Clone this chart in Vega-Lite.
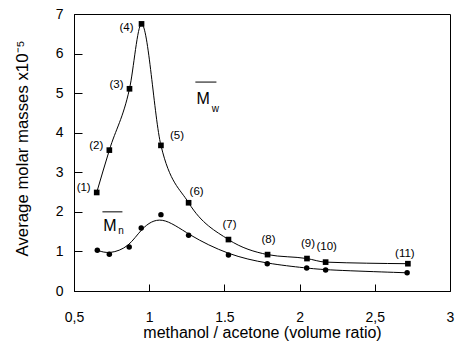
{
  "$schema": "https://vega.github.io/schema/vega-lite/v6.json",
  "width": 376,
  "height": 277,
  "autosize": {"type": "none"},
  "padding": {"left": 74, "top": 14, "right": 6, "bottom": 53},
  "background": "white",
  "config": {
    "font": "Liberation Sans",
    "view": {"stroke": "black", "strokeWidth": 1},
    "axis": {"domainColor": "black", "tickColor": "black", "labelColor": "black", "titleColor": "black", "grid": false, "labelFont": "Liberation Sans", "titleFont": "Liberation Sans", "titleFontWeight": "normal", "labelFontSize": 14, "titleFontSize": 16},
    "text": {"fill": "black", "color": "black"}
  },
  "datasets": {
    "mw": [
      {"x": 0.651, "y": 2.49, "n": 1, "lab": "(1)"},
      {"x": 0.735, "y": 3.56, "n": 2, "lab": "(2)"},
      {"x": 0.869, "y": 5.11, "n": 3, "lab": "(3)"},
      {"x": 0.949, "y": 6.75, "n": 4, "lab": "(4)"},
      {"x": 1.078, "y": 3.68, "n": 5, "lab": "(5)"},
      {"x": 1.262, "y": 2.23, "n": 6, "lab": "(6)"},
      {"x": 1.527, "y": 1.30, "n": 7, "lab": "(7)"},
      {"x": 1.787, "y": 0.92, "n": 8, "lab": "(8)"},
      {"x": 2.049, "y": 0.82, "n": 9, "lab": "(9)"},
      {"x": 2.173, "y": 0.73, "n": 10, "lab": "(10)"},
      {"x": 2.720, "y": 0.69, "n": 11, "lab": "(11)"}
    ],
    "mn": [
      {"x": 0.655, "y": 1.03},
      {"x": 0.735, "y": 0.93},
      {"x": 0.867, "y": 1.11},
      {"x": 0.947, "y": 1.59},
      {"x": 1.078, "y": 1.93},
      {"x": 1.262, "y": 1.41},
      {"x": 1.527, "y": 0.91},
      {"x": 1.785, "y": 0.69},
      {"x": 2.047, "y": 0.58},
      {"x": 2.173, "y": 0.53},
      {"x": 2.715, "y": 0.46}
    ],
    "notes": [
      {"series": "w", "ax": 1.358, "ay": 4.85, "sx": 1.44, "sy": 4.6, "ox1": 1.307, "ox2": 1.447, "oy": 5.28},
      {"series": "n", "ax": 0.739, "ay": 1.64, "sx": 0.813, "sy": 1.51, "ox1": 0.689, "ox2": 0.822, "oy": 2.0}
    ]
  },
  "encoding": {
    "x": {"field": "x", "type": "quantitative", "scale": {"domain": [0.5, 3], "nice": false, "zero": false},
      "axis": {"title": "methanol / acetone (volume ratio)", "values": [0.5, 1, 1.5, 2, 2.5, 3], "labelExpr": "datum.value == 0.5 ? '0,5' : datum.value == 2.5 ? '2,5' : datum.value == 1.5 ? '1.5' : datum.value + ''", "tickSize": -7, "labelPadding": 26, "titlePadding": 0, "labelFlush": false}},
    "y": {"field": "y", "type": "quantitative", "scale": {"domain": [0, 7], "nice": false},
      "axis": {"title": "Average molar masses x10⁻⁵", "values": [0, 1, 2, 3, 4, 5, 6, 7], "tickSize": -8, "labelPadding": 19, "titlePadding": 24, "titleY": 134, "titleFontSize": 16.8, "labelFlush": false}}
  },
  "layer": [
    {"data": {"name": "mw"}, "mark": {"type": "line", "interpolate": "monotone", "color": "black", "strokeWidth": 1}},
    {"data": {"name": "mw"}, "mark": {"type": "point", "shape": "square", "filled": true, "color": "black", "opacity": 1, "size": 32}},
    {"data": {"name": "mn"}, "mark": {"type": "line", "interpolate": "basis", "color": "black", "strokeWidth": 1}},
    {"data": {"name": "mn"}, "mark": {"type": "point", "shape": "circle", "filled": true, "color": "black", "opacity": 1, "size": 30}},
    {"data": {"name": "mw"}, "transform": [{"filter": "datum.n <= 3"}],
      "mark": {"type": "text", "align": "right", "baseline": "middle", "dx": -6, "dy": -4, "fontSize": 11.5, "fill": "black"},
      "encoding": {"text": {"field": "lab"}}},
    {"data": {"name": "mw"}, "transform": [{"filter": "datum.n == 4"}],
      "mark": {"type": "text", "align": "right", "baseline": "middle", "dx": -8, "dy": 4, "fontSize": 11.5, "fill": "black"},
      "encoding": {"text": {"field": "lab"}}},
    {"data": {"name": "mw"}, "transform": [{"filter": "datum.n == 5"}],
      "mark": {"type": "text", "align": "left", "baseline": "middle", "dx": 9, "dy": -9, "fontSize": 11.5, "fill": "black"},
      "encoding": {"text": {"field": "lab"}}},
    {"data": {"name": "mw"}, "transform": [{"filter": "datum.n == 6"}],
      "mark": {"type": "text", "align": "center", "baseline": "middle", "dx": 8, "dy": -11, "fontSize": 11.5, "fill": "black"},
      "encoding": {"text": {"field": "lab"}}},
    {"data": {"name": "mw"}, "transform": [{"filter": "datum.n >= 7 && datum.n <= 10"}],
      "mark": {"type": "text", "align": "center", "baseline": "middle", "dx": 1, "dy": -15, "fontSize": 11.5, "fill": "black"},
      "encoding": {"text": {"field": "lab"}}},
    {"data": {"name": "mw"}, "transform": [{"filter": "datum.n == 11"}],
      "mark": {"type": "text", "align": "center", "baseline": "middle", "dx": -3, "dy": -10, "fontSize": 11.5, "fill": "black"},
      "encoding": {"text": {"field": "lab"}}},
    {"data": {"name": "notes"}, "mark": {"type": "text", "text": "M", "fontSize": 16, "align": "center", "baseline": "middle", "fill": "black"},
      "encoding": {"x": {"field": "ax", "type": "quantitative"}, "y": {"field": "ay", "type": "quantitative"}}},
    {"data": {"name": "notes"}, "mark": {"type": "text", "fontSize": 10, "align": "center", "baseline": "middle", "fill": "black"},
      "encoding": {"x": {"field": "sx", "type": "quantitative"}, "y": {"field": "sy", "type": "quantitative"}, "text": {"field": "series"}}},
    {"data": {"name": "notes"}, "mark": {"type": "rule", "color": "black", "strokeWidth": 1},
      "encoding": {"x": {"field": "ox1", "type": "quantitative"}, "x2": {"field": "ox2"}, "y": {"field": "oy", "type": "quantitative"}}}
  ]
}
